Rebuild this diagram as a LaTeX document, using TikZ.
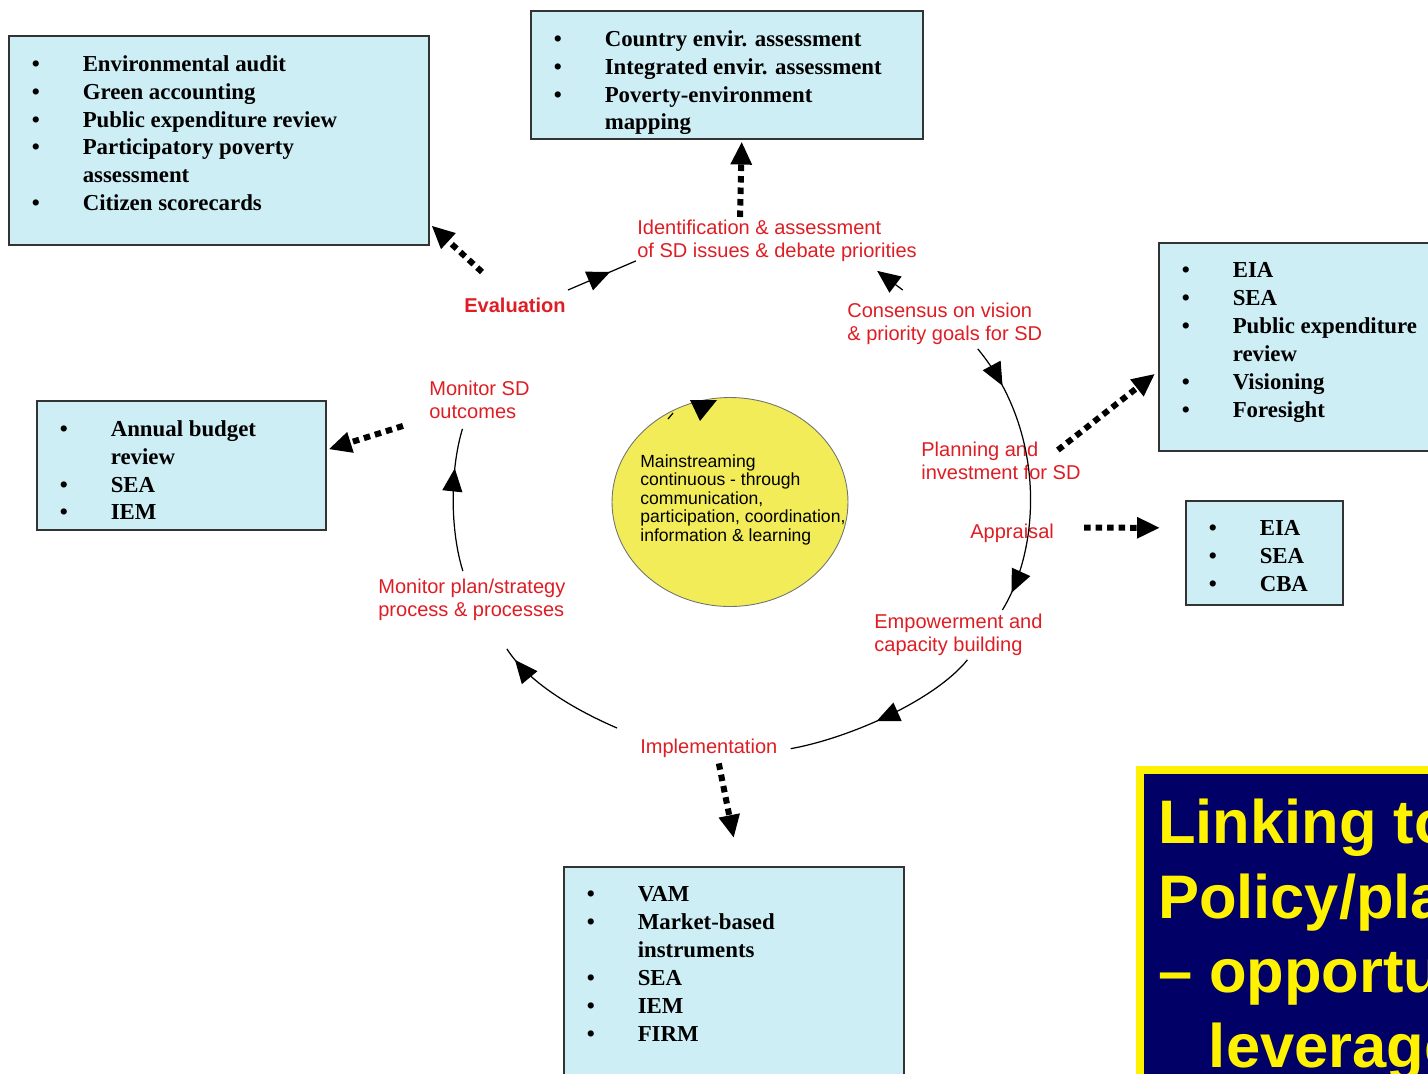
\documentclass[tikz,border=0pt]{standalone}
\usepackage{fontspec}
\setmainfont{Liberation Serif}
\newfontfamily\arial{Liberation Sans}
\usepackage{xcolor}
\usetikzlibrary{shapes, arrows.meta, positioning, calc, decorations.markings}

\definecolor{boxfill}{RGB}{206,238,246}
\definecolor{labred}{RGB}{222,30,36}
\definecolor{coreyellow}{RGB}{242,236,88}
\definecolor{navy}{RGB}{0,0,102}

\newcommand{\bul}{\makebox[1.02cm][l]{\textbullet}}
\newcommand{\ind}{\hspace*{1.02cm}}
\newcommand{\blist}[3]{\begin{minipage}[t][#2][t]{#1}\raggedright #3\end{minipage}}

\begin{document}
\begin{tikzpicture}[x=0.02cm, y=-0.02cm,
    mid/.style={postaction={decorate, decoration={markings,
        mark=at position #1 with {\arrow{Triangle[length=0.46cm, width=0.4cm]}}}}}]
    \tikzstyle{block} = [rectangle, draw=black!80, fill=boxfill, line width=0.9pt,
                         anchor=north west, inner xsep=0.46cm, inner ysep=0.39cm,
                         font=\fontsize{13}{15.9}\selectfont\bfseries]
    \tikzstyle{lab} = [anchor=north west, inner sep=0, align=left, text=labred,
                       font=\arial\fontsize{11.4}{12.8}\selectfont]
    \tikzstyle{cyc} = [line width=0.7pt]
    \tikzstyle{dotlink} = [line width=0.12cm, dash pattern=on 0.13cm off 0.1cm,
                           -{Triangle[length=0.46cm, width=0.4cm]}]

    \useasboundingbox (0,0) rectangle (1428,1073);
    \clip (0,0) rectangle (1428,1073);
    \fill[white] (0,0) rectangle (1428,1073);

    \node [block] (audit) at (8,35) {\blist{7.48cm}{3.40cm}{%
        \bul Environmental audit\\ \bul Green accounting\\
        \bul Public expenditure review\\ \bul Participatory poverty\\
        \ind assessment\\ \bul Citizen scorecards}};
    \node [block] (country) at (530,10) {\blist{6.92cm}{1.78cm}{%
        \bul Country envir. assessment\\ \bul Integrated envir. assessment\\
        \bul Poverty-environment\\ \ind mapping}};
    \node [block] (eiaA) at (1158,242) {\blist{4.88cm}{3.38cm}{%
        \bul EIA\\ \bul SEA\\ \bul Public expenditure\\ \ind review\\
        \bul Visioning\\ \bul Foresight}};
    \node [block] (budget) at (36,400) {\blist{4.86cm}{1.80cm}{%
        \bul Annual budget\\ \ind review\\ \bul SEA\\ \bul IEM}};
    \node [block] (eiaB) at (1185,500) {\blist{2.22cm}{1.30cm}{%
        \bul EIA\\ \bul SEA\\ \bul CBA}};
    \node [block] (vam) at (563,866) {\blist{5.88cm}{3.82cm}{%
        \bul VAM\\ \bul Market-based\\ \ind instruments\\ \bul SEA\\
        \bul IEM\\ \bul FIRM}};

    \node [ellipse, draw=black!55, line width=0.5pt, fill=coreyellow,
           minimum width=4.72cm, minimum height=4.18cm] (core) at (730,502) {};
    \node [anchor=north west, inner sep=0, align=left,
           font=\arial\fontsize{10}{10.6}\selectfont] (coretext) at (640,454) {
        Mainstreaming\\continuous - through\\communication,\\
        participation, coordination,\\information \& learning};
    \fill (690,400) -- (717,400) -- (700,421) -- cycle;
    \draw[cyc] (668,419) -- (673,413);

    \node [lab] (ident) at (637,220) {Identification \& assessment\\of SD issues \& debate priorities};
    \node [lab, font=\arial\fontsize{11.4}{12.8}\selectfont\bfseries] (eval) at (464,298) {Evaluation};
    \node [lab] (consensus) at (847,303) {Consensus on vision\\\& priority goals for SD};
    \node [lab] (planning) at (921,442) {Planning and\\investment for SD};
    \node [lab] (appraisal) at (970,524) {Appraisal};
    \node [lab] (empower) at (874,614) {Empowerment and\\capacity building};
    \node [lab] (impl) at (640,739) {Implementation};
    \node [lab] (monplan) at (378,579) {Monitor plan/strategy\\process \& processes};
    \node [lab] (monsd) at (429,381) {Monitor SD\\outcomes};

    \draw[cyc, mid=0.62] ($(eval.north east)+(2,-8)$) -- ($(ident.south west)+(-1,-1)$);
    \draw[cyc, -{Triangle[length=0.46cm, width=0.4cm]}] ($(consensus.north)+(-42,-13)$) -- ($(ident.south east)+(-40,9)$);
    \draw[cyc, mid=0.16, mid=0.93] ($(consensus.south)+(33,4)$) .. controls (1045,430) and (1042,545) .. ($(empower.north)+(44,-4)$);
    \draw[cyc, mid=0.55] ($(empower.south)+(9,4)$) .. controls (935,700) and (850,738) .. ($(impl.east)+(13,0)$);
    \draw[cyc, mid=0.9] ($(impl.north west)+(-23,-11)$) .. controls (580,712) and (530,685) .. ($(monplan.south)+(35,28)$);
    \draw[cyc, mid=0.72] ($(monplan.north)+(-9,-8)$) .. controls (450,530) and (450,470) .. ($(monsd.south)+(-17,10)$);

    \draw[dotlink] ($(eval.north west)+(18,-26)$) -- ($(audit.south east)+(2,-20)$);
    \draw[dotlink] ($(ident.north)+(-37,-3)$) -- ($(country.south)+(15,2)$);
    \draw[dotlink] ($(planning.north east)+(-23,8)$) -- ($(eiaA.west)+(-3,27)$);
    \draw[dotlink] ($(appraisal.east)+(30,-6)$) -- ($(eiaB.west)+(-25,-25)$);
    \draw[dotlink] ($(monsd.south west)+(-26,7)$) -- ($(budget.east)+(2,-16)$);
    \draw[dotlink] ($(impl.south)+(10,5)$) -- ($(vam.north)+(0,-28)$);

    \node [anchor=north west, outer sep=0, draw=yellow, line width=0.16cm, fill=navy,
           inner xsep=0.36cm, inner ysep=0.58cm, align=left, text=yellow,
           font=\arial\bfseries\fontsize{35}{42.5}\selectfont] (title) at (1140,770) {
        Linking to\\Policy/planning\\– opportunities\\\hspace*{1.02cm}leverage};
\end{tikzpicture}
\end{document}
